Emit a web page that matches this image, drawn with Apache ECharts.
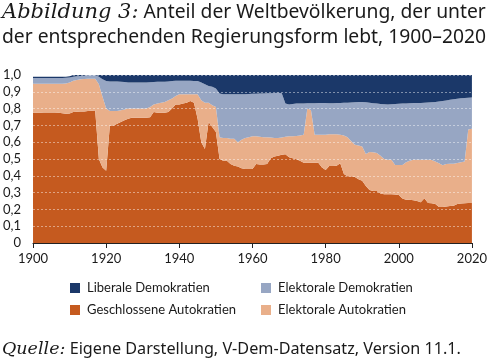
<!DOCTYPE html>
<html><head><meta charset="utf-8">
<script src="https://cdn.jsdelivr.net/npm/echarts@6/dist/echarts.min.js"></script>
<style>html,body{margin:0;padding:0;background:#fff}#c{width:490px;height:359px}</style>
</head><body><div id="c"></div>
<script>
const years = [1900,1901,1902,1903,1904,1905,1906,1907,1908,1909,1910,1911,1912,1913,1914,1915,1916,1917,1918,1919,1920,1921,1922,1923,1924,1925,1926,1927,1928,1929,1930,1931,1932,1933,1934,1935,1936,1937,1938,1939,1940,1941,1942,1943,1944,1945,1946,1947,1948,1949,1950,1951,1952,1953,1954,1955,1956,1957,1958,1959,1960,1961,1962,1963,1964,1965,1966,1967,1968,1969,1970,1971,1972,1973,1974,1975,1976,1977,1978,1979,1980,1981,1982,1983,1984,1985,1986,1987,1988,1989,1990,1991,1992,1993,1994,1995,1996,1997,1998,1999,2000,2001,2002,2003,2004,2005,2006,2007,2008,2009,2010,2011,2012,2013,2014,2015,2016,2017,2018,2019,2020];

const geschlossene = [.775,.775,.776,.777,.777,.777,.777,.776,.772,.770,
.771,.780,.781,.782,.783,.785,.787,.788,.500,.450,
.430,.700,.700,.710,.720,.730,.740,.745,.745,.745,
.745,.745,.748,.780,.775,.775,.775,.780,.800,.825,
.825,.830,.835,.845,.835,.740,.600,.560,.720,.690,
.660,.500,.490,.490,.470,.460,.455,.445,.440,.440,
.440,.470,.468,.468,.470,.505,.515,.520,.525,.528,
.510,.505,.498,.490,.478,.478,.478,.478,.478,.450,
.435,.458,.458,.460,.475,.410,.398,.398,.393,.380,
.370,.340,.315,.310,.310,.295,.290,.290,.290,.288,
.285,.265,.258,.258,.254,.250,.242,.266,.238,.236,
.232,.215,.214,.218,.220,.222,.232,.235,.237,.238,
.238];

const elektoraleAutokratien = [.173,.173,.172,.171,.171,.171,.171,.172,.176,.180,
.184,.186,.189,.192,.193,.192,.191,.190,.445,.420,
.370,.085,.085,.075,.070,.065,.060,.055,.055,.055,
.055,.055,.062,.045,.055,.060,.065,.070,.060,.050,
.060,.055,.050,.040,.050,.145,.250,.275,.115,.130,
.150,.130,.135,.135,.150,.160,.145,.170,.185,.190,
.195,.165,.164,.162,.160,.123,.110,.105,.103,.104,
.125,.130,.139,.150,.167,.322,.312,.167,.167,.195,
.210,.189,.189,.187,.170,.230,.232,.207,.192,.200,
.205,.190,.227,.230,.225,.225,.210,.205,.205,.177,
.180,.200,.222,.232,.241,.246,.254,.230,.258,.258,
.253,.260,.249,.252,.252,.250,.244,.245,.248,.437,
.442];

const elektoraleDemokratien = [.034,.034,.034,.034,.034,.034,.034,.034,.034,.033,
.030,.024,.022,.020,.020,.023,.022,.022,.045,.105,
.165,.177,.177,.177,.170,.163,.156,.155,.155,.155,
.155,.155,.147,.133,.130,.125,.120,.112,.104,.091,
.081,.081,.081,.081,.080,.079,.105,.110,.100,.110,
.110,.260,.260,.260,.265,.265,.285,.270,.261,.257,
.253,.254,.258,.260,.261,.264,.268,.269,.264,.198,
.190,.193,.193,.190,.185,.032,.042,.187,.188,.188,
.188,.185,.185,.186,.189,.195,.205,.231,.253,.259,
.265,.308,.293,.292,.295,.308,.326,.330,.331,.363,
.364,.365,.351,.342,.338,.337,.338,.339,.340,.344,
.355,.367,.382,.378,.380,.384,.383,.381,.378,.190,
.186];

const liberaleDemokratien = [.008,.008,.008,.008,.008,.008,.008,.008,.008,.007,
.007,.010,.008,.006,.004,.000,.000,.000,.010,.025,
.035,.038,.038,.038,.040,.042,.044,.045,.045,.045,
.045,.045,.043,.042,.040,.040,.040,.038,.036,.034,
.034,.034,.034,.034,.035,.036,.045,.055,.065,.070,
.080,.110,.115,.115,.115,.115,.115,.115,.114,.113,
.112,.111,.110,.110,.109,.108,.107,.106,.108,.170,
.175,.172,.170,.170,.170,.168,.168,.168,.167,.167,
.167,.168,.168,.167,.166,.165,.165,.164,.162,.161,
.160,.162,.165,.168,.170,.172,.174,.175,.174,.172,
.171,.170,.169,.168,.167,.167,.166,.165,.164,.162,
.160,.158,.155,.152,.148,.144,.141,.139,.137,.135,
.134];

const names = ['Geschlossene Autokratien','Elektorale Autokratien','Elektorale Demokratien','Liberale Demokratien'];
const colors = ['#c55a1f','#e9af8a','#97a6c3','#1b3869'];
const seriesData = [geschlossene, elektoraleAutokratien, elektoraleDemokratien, liberaleDemokratien];

const SANS = 'Lato, "Noto Sans", sans-serif';
const TSANS = '"Noto Sans", Lato, sans-serif';
const SERIF = '"DejaVu Serif", "Liberation Serif", serif';

const chart = echarts.init(document.getElementById('c'), null, {renderer:'canvas'});
chart.setOption({
  animation: false,
  backgroundColor: '#fff',
  color: colors,
  title: [{
    left: 2, top: 0, padding: 0,
    text: '{i|Abbildung 3:}{n| Anteil der Weltbevölkerung, der unter}\n{n|der entsprechenden Regierungsform lebt, 1900–2020}',
    textStyle: {
      fontWeight: 'normal',
      rich: {
        i: {fontFamily: SERIF, fontStyle: 'italic', fontWeight: 'normal', fontSize: 21, color: '#1a1a1a', lineHeight: 25},
        n: {fontFamily: TSANS, fontWeight: 'normal', fontSize: 19.3, color: '#1a1a1a', lineHeight: 25}
      }
    }
  },{
    left: 2, top: 338, padding: 0,
    text: '{i|Quelle:}{n| Eigene Darstellung, V-Dem-Datensatz, Version 11.1.}',
    textStyle: {
      fontWeight: 'normal',
      rich: {
        i: {fontFamily: SERIF, fontStyle: 'italic', fontWeight: 'normal', fontSize: 17.5, color: '#1a1a1a', lineHeight: 22},
        n: {fontFamily: TSANS, fontWeight: 'normal', fontSize: 16.2, color: '#1a1a1a', lineHeight: 22}
      }
    }
  }],
  legend: [{
    left: 70, top: 281, orient: 'vertical', itemWidth: 10, itemHeight: 10, itemGap: 8, padding: 0,
    icon: 'rect',
    data: ['Liberale Demokratien','Geschlossene Autokratien'],
    textStyle: {fontFamily: SANS, fontSize: 13, color: '#1a1a1a', lineHeight: 14, padding: [0,0,0,2]}
  },{
    left: 261, top: 281, orient: 'vertical', itemWidth: 10, itemHeight: 10, itemGap: 8, padding: 0,
    icon: 'rect',
    data: ['Elektorale Demokratien','Elektorale Autokratien'],
    textStyle: {fontFamily: SANS, fontSize: 13, color: '#1a1a1a', lineHeight: 14, padding: [0,0,0,2]}
  }],
  grid: {left: 29, right: 17, top: 75, bottom: 116, containLabel: false},
  xAxis: {
    type: 'category', data: years, boundaryGap: false, z: 10,
    axisLine: {lineStyle: {color: '#222', width: 1.2}},
    axisTick: {interval: 19, length: 5, lineStyle: {color: '#222'}},
    axisLabel: {interval: 19, margin: 9, fontFamily: SANS, fontSize: 13, color: '#1a1a1a'},
    splitLine: {show: false}
  },
  yAxis: {
    type: 'value', min: 0, max: 1, interval: 0.1, z: 10,
    axisLine: {show: false}, axisTick: {show: false},
    axisLabel: {margin: 12, fontFamily: SANS, fontSize: 13, color: '#1a1a1a',
      formatter: v => v === 0 ? '0' : v.toFixed(1).replace('.', ',')},
    splitLine: {lineStyle: {color: 'rgba(255,255,255,0.45)', type: [2,2], width: 1}}
  },
  series: names.map((n, i) => ({
    name: n, type: 'line', stack: 'total', data: seriesData[i],
    symbol: 'none', showSymbol: false, lineStyle: {width: 0},
    itemStyle: {color: colors[i]},
    areaStyle: {color: colors[i], opacity: 1}
  }))
});
</script></body></html>
